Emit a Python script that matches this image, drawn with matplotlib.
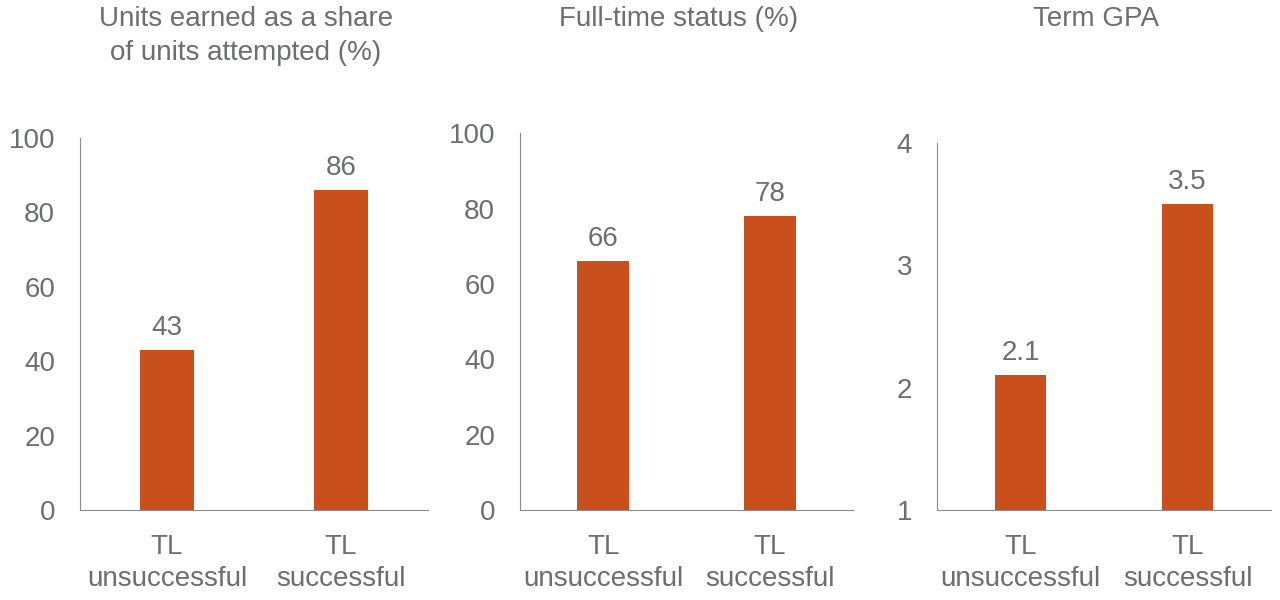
import matplotlib.pyplot as plt

plt.rcParams["font.family"] = ["Liberation Sans", "DejaVu Sans"]

# -------------------------
# Data
# -------------------------

groups = ["TL\nunsuccessful", "TL\nsuccessful"]

titles = [
    "Units earned as a share\nof units attempted (%)",
    "Full-time status (%)",
    "Term GPA"
]

units_earned = [43, 86]
full_time = [66, 78]
term_gpa = [2.1, 3.5]

value_labels = [
    ["43", "86"],
    ["66", "78"],
    ["2.1", "3.5"]
]

ylims = [(0, 100), (0, 100), (1, 4)]
yticks = [[0, 20, 40, 60, 80, 100], [0, 20, 40, 60, 80, 100], [1, 2, 3, 4]]

# -------------------------
# Style
# -------------------------

bar_color = "#C94F1C"
text_color = "#6D6E71"
axis_color = "#8C8C8C"

# axes rectangles [left, bottom, width, height]
positions = [
    [80 / 1280, 0.15, 348 / 1280, 0.62],
    [520 / 1280, 0.15, 333 / 1280, 0.628],
    [937 / 1280, 0.15, 334 / 1280, 0.612]
]

title_x = [0.192, 0.53, 0.856]

fig = plt.figure(figsize=(12.8, 6), dpi=100)

series = [units_earned, full_time, term_gpa]

for i, vals in enumerate(series):

    ax = fig.add_axes(positions[i])

    xs = range(len(groups))
    ax.bar(xs, [v - ylims[i][0] for v in vals], bottom=ylims[i][0],
           width=0.31, color=bar_color)

    span = ylims[i][1] - ylims[i][0]
    for x, v, lab in zip(xs, vals, value_labels[i]):
        ax.text(x, v + span * 0.025, lab, ha="center", va="bottom",
                fontsize=20, color=text_color)

    ax.set_xlim(-0.5, 1.5)
    ax.set_ylim(*ylims[i])
    ax.set_yticks(yticks[i])
    ax.set_xticks(list(xs))
    ax.set_xticklabels(groups)

    ax.tick_params(axis="both", length=0, labelsize=20,
                   colors=text_color)
    ax.tick_params(axis="x", pad=17)
    ax.tick_params(axis="y", pad=18)

    for lab in ax.get_xticklabels():
        lab.set_linespacing(1.3)

    ax.spines["top"].set_visible(False)
    ax.spines["right"].set_visible(False)
    ax.spines["left"].set_color(axis_color)
    ax.spines["bottom"].set_color(axis_color)

    fig.text(title_x[i], 0.99, titles[i], ha="center", va="top",
             fontsize=20, color=text_color, linespacing=1.38)

plt.savefig("out.png", dpi=100)
